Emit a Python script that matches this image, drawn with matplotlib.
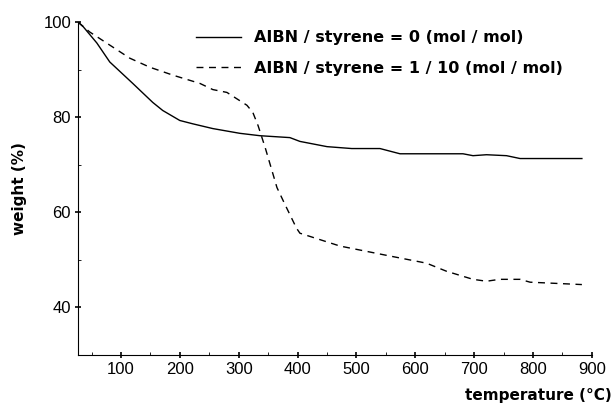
import matplotlib.pyplot as plt
from matplotlib.ticker import MultipleLocator

plt.rcParams['font.family'] = ['Liberation Sans', 'DejaVu Sans']

# AIBN / styrene = 0
temp_a = [27, 36, 59, 81, 120, 154, 171, 200, 222, 256, 302, 336, 387, 404,
          450, 492, 540, 574, 681, 698, 721, 755, 778, 883]
weight_a = [100, 99.0, 95.6, 91.6, 87.1, 83.1, 81.4, 79.3, 78.6, 77.6, 76.6, 76.1, 75.7, 74.9,
            73.8, 73.4, 73.4, 72.3, 72.3, 71.9, 72.1, 71.9, 71.3, 71.3]

# AIBN / styrene = 1/10
temp_b = [27, 47, 115, 149, 189, 234, 256, 280, 314, 324, 333, 345, 365, 378, 398,
          404, 472, 557, 619, 653, 698, 721, 743, 778, 795, 883]
weight_b = [100, 97.9, 92.4, 90.5, 88.8, 87.1, 85.8, 85.2, 82.5, 81.0, 78.2, 73.6, 65.2, 61.8, 56.7,
            55.6, 52.9, 50.8, 49.3, 47.6, 45.9, 45.5, 45.9, 45.9, 45.3, 44.8]

fig = plt.figure(figsize=(6.14, 4.08), dpi=100)
ax = fig.add_axes([0.127, 0.13, 0.837, 0.816])

ax.plot(temp_a, weight_a, color='black', linewidth=1.0, linestyle='-',
        label='AIBN / styrene = 0 (mol / mol)')
ax.plot(temp_b, weight_b, color='black', linewidth=1.0, linestyle=(0, (5, 4)),
        label='AIBN / styrene = 1 / 10 (mol / mol)')

ax.set_xlim(27, 900)
ax.set_ylim(30, 100)
ax.xaxis.set_minor_locator(MultipleLocator(50))
ax.yaxis.set_minor_locator(MultipleLocator(10))
ax.set_xticks(range(100, 1000, 100))
ax.set_yticks([40, 60, 80, 100])

for s in ['top', 'right']:
    ax.spines[s].set_visible(False)
ax.tick_params(which='major', direction='inout', length=4, width=1.2, labelsize=12, pad=3)
ax.tick_params(which='minor', direction='in', length=2, width=0.6)

bold = {'family': 'DejaVu Sans', 'weight': 'bold', 'size': 11}
ax.set_ylabel('weight (%)', fontdict=bold, labelpad=12)
ax.set_xlabel('temperature (°C)', fontdict=bold)
ax.xaxis.set_label_coords(1.039, -0.10)
ax.xaxis.label.set_horizontalalignment('right')

ax.legend(loc='upper left', bbox_to_anchor=(0.202, 1.018), frameon=False,
          handlelength=2.8, handletextpad=0.85, labelspacing=0.95,
          prop={'family': 'DejaVu Sans', 'weight': 'bold', 'size': 11.5})

plt.savefig('out.png', dpi=100)
